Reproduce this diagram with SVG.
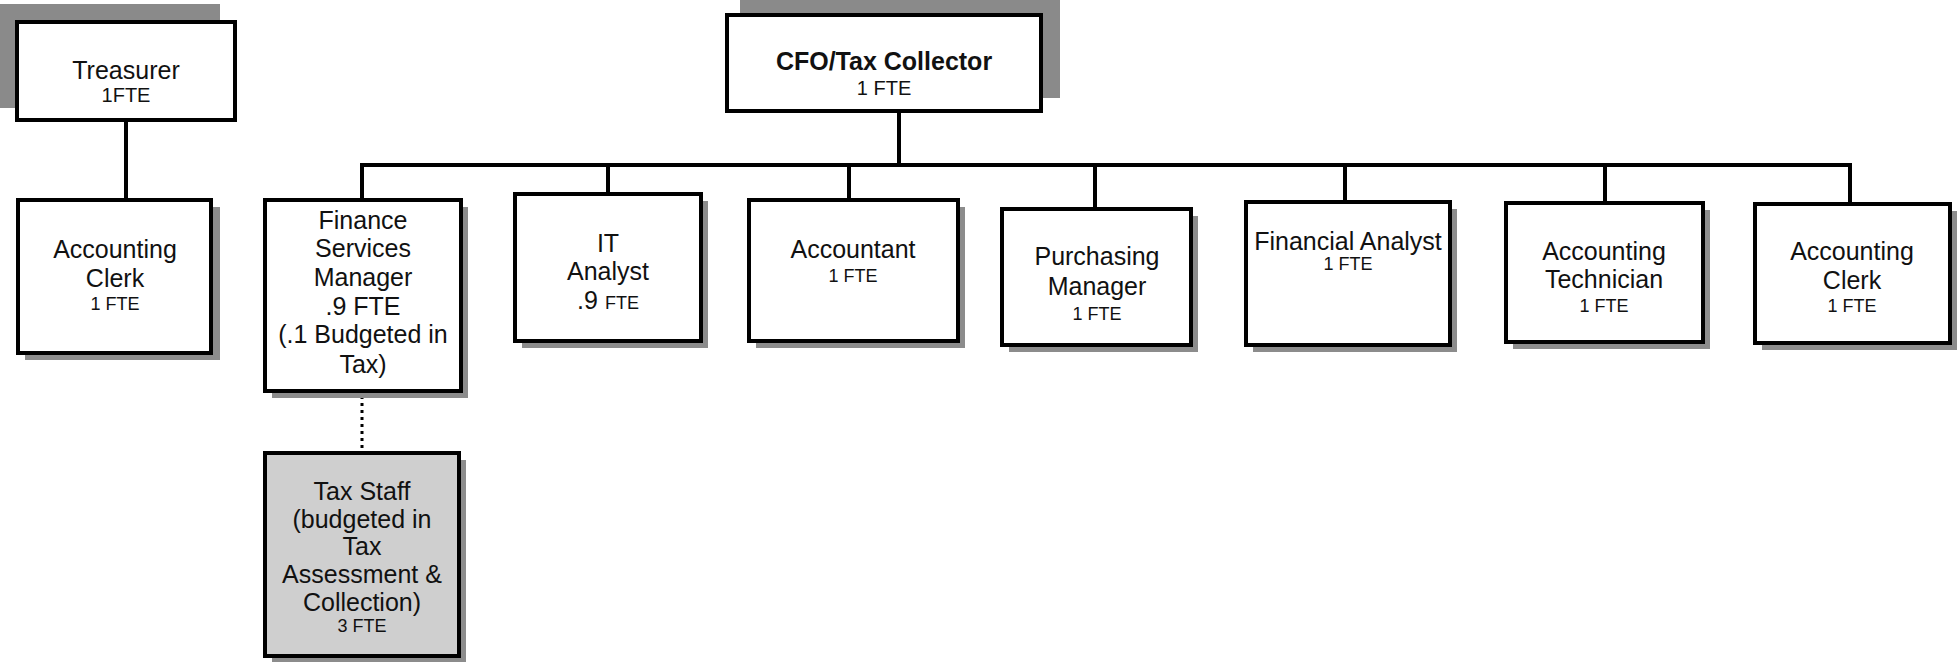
<svg xmlns="http://www.w3.org/2000/svg" width="1957" height="662" viewBox="0 0 1957 662">
<style>
.box{fill:#ffffff;stroke:#000000;stroke-width:4}
.gbox{fill:#cfcfcf;stroke:#000000;stroke-width:4}
.sh{fill:#8c8c8c}
.bigsh{fill:#8a8a8a}
.t{font-family:"Liberation Sans",Arial,sans-serif;font-size:25px;fill:#111111;text-anchor:middle}
.s{font-family:"Liberation Sans",Arial,sans-serif;font-size:18px;fill:#111111;text-anchor:middle}
.b{font-weight:bold}
.ln{stroke:#000000;stroke-width:4;fill:none}
.dot{stroke:#000000;stroke-width:3;fill:none;stroke-dasharray:3 4}
</style>
<rect width="1957" height="662" fill="#ffffff"/>
<g id="connectors">
<line class="ln" x1="126" y1="120" x2="126" y2="200"/>
<line class="ln" x1="899" y1="111" x2="899" y2="165"/>
<line class="ln" x1="360" y1="165" x2="1852" y2="165"/>
<line class="ln" x1="362" y1="165" x2="362" y2="200"/>
<line class="ln" x1="608" y1="165" x2="608" y2="194"/>
<line class="ln" x1="849" y1="165" x2="849" y2="200"/>
<line class="ln" x1="1095" y1="165" x2="1095" y2="209"/>
<line class="ln" x1="1345" y1="165" x2="1345" y2="202"/>
<line class="ln" x1="1605" y1="165" x2="1605" y2="203"/>
<line class="ln" x1="1850" y1="165" x2="1850" y2="204"/>
<line class="dot" x1="362" y1="396" x2="362" y2="451"/>
</g>
<g id="treasurer">
<rect class="bigsh" x="0" y="4" width="220" height="104"/>
<rect class="box" x="17" y="22" width="218" height="98"/>
<text class="t" x="126" y="79">Treasurer</text>
<text class="s" x="126" y="102" style="font-size:20px">1FTE</text>
</g>
<g id="cfo">
<rect class="bigsh" x="740" y="-2" width="320" height="100"/>
<rect class="box" x="727" y="15" width="314" height="96"/>
<text class="t b" x="884" y="70">CFO/Tax Collector</text>
<text class="s" x="884" y="95" style="font-size:20px">1 FTE</text>
</g>
<g id="acc-clerk-left">
<rect class="sh" x="25" y="207" width="195" height="153"/>
<rect class="box" x="18" y="200" width="193" height="153"/>
<text class="t" x="115" y="258">Accounting</text>
<text class="t" x="115" y="287">Clerk</text>
<text class="s" x="115" y="310">1 FTE</text>
</g>
<g id="finance-services-manager">
<rect class="sh" x="272" y="207" width="196" height="191"/>
<rect class="box" x="265" y="200" width="196" height="191"/>
<text class="t" x="363" y="229">Finance</text>
<text class="t" x="363" y="257">Services</text>
<text class="t" x="363" y="286">Manager</text>
<text class="t" x="363" y="315">.9 FTE</text>
<text class="t" x="363" y="343">(.1 Budgeted in</text>
<text class="t" x="363" y="373">Tax)</text>
</g>
<g id="tax-staff">
<rect class="sh" x="272" y="460" width="194" height="203"/>
<rect class="gbox" x="265" y="453" width="194" height="203"/>
<text class="t" x="362" y="500">Tax Staff</text>
<text class="t" x="362" y="528">(budgeted in</text>
<text class="t" x="362" y="555">Tax</text>
<text class="t" x="362" y="583">Assessment &amp;</text>
<text class="t" x="362" y="611">Collection)</text>
<text class="s" x="362" y="632">3 FTE</text>
</g>
<g id="it-analyst">
<rect class="sh" x="522" y="201" width="186" height="147"/>
<rect class="box" x="515" y="194" width="186" height="147"/>
<text class="t" x="608" y="252">IT</text>
<text class="t" x="608" y="280">Analyst</text>
<text class="t" x="608" y="309">.9 <tspan style="font-size:18px">FTE</tspan></text>
</g>
<g id="accountant">
<rect class="sh" x="756" y="207" width="209" height="141"/>
<rect class="box" x="749" y="200" width="209" height="141"/>
<text class="t" x="853" y="258">Accountant</text>
<text class="s" x="853" y="282">1 FTE</text>
</g>
<g id="purchasing-manager">
<rect class="sh" x="1009" y="216" width="189" height="136"/>
<rect class="box" x="1002" y="209" width="189" height="136"/>
<text class="t" x="1097" y="265">Purchasing</text>
<text class="t" x="1097" y="295">Manager</text>
<text class="s" x="1097" y="320">1 FTE</text>
</g>
<g id="financial-analyst">
<rect class="sh" x="1253" y="209" width="204" height="143"/>
<rect class="box" x="1246" y="202" width="204" height="143"/>
<text class="t" x="1348" y="250">Financial Analyst</text>
<text class="s" x="1348" y="270">1 FTE</text>
</g>
<g id="accounting-technician">
<rect class="sh" x="1513" y="210" width="197" height="139"/>
<rect class="box" x="1506" y="203" width="197" height="139"/>
<text class="t" x="1604" y="260">Accounting</text>
<text class="t" x="1604" y="288">Technician</text>
<text class="s" x="1604" y="312">1 FTE</text>
</g>
<g id="acc-clerk-right">
<rect class="sh" x="1762" y="211" width="195" height="139"/>
<rect class="box" x="1755" y="204" width="195" height="139"/>
<text class="t" x="1852" y="260">Accounting</text>
<text class="t" x="1852" y="289">Clerk</text>
<text class="s" x="1852" y="312">1 FTE</text>
</g>
</svg>
